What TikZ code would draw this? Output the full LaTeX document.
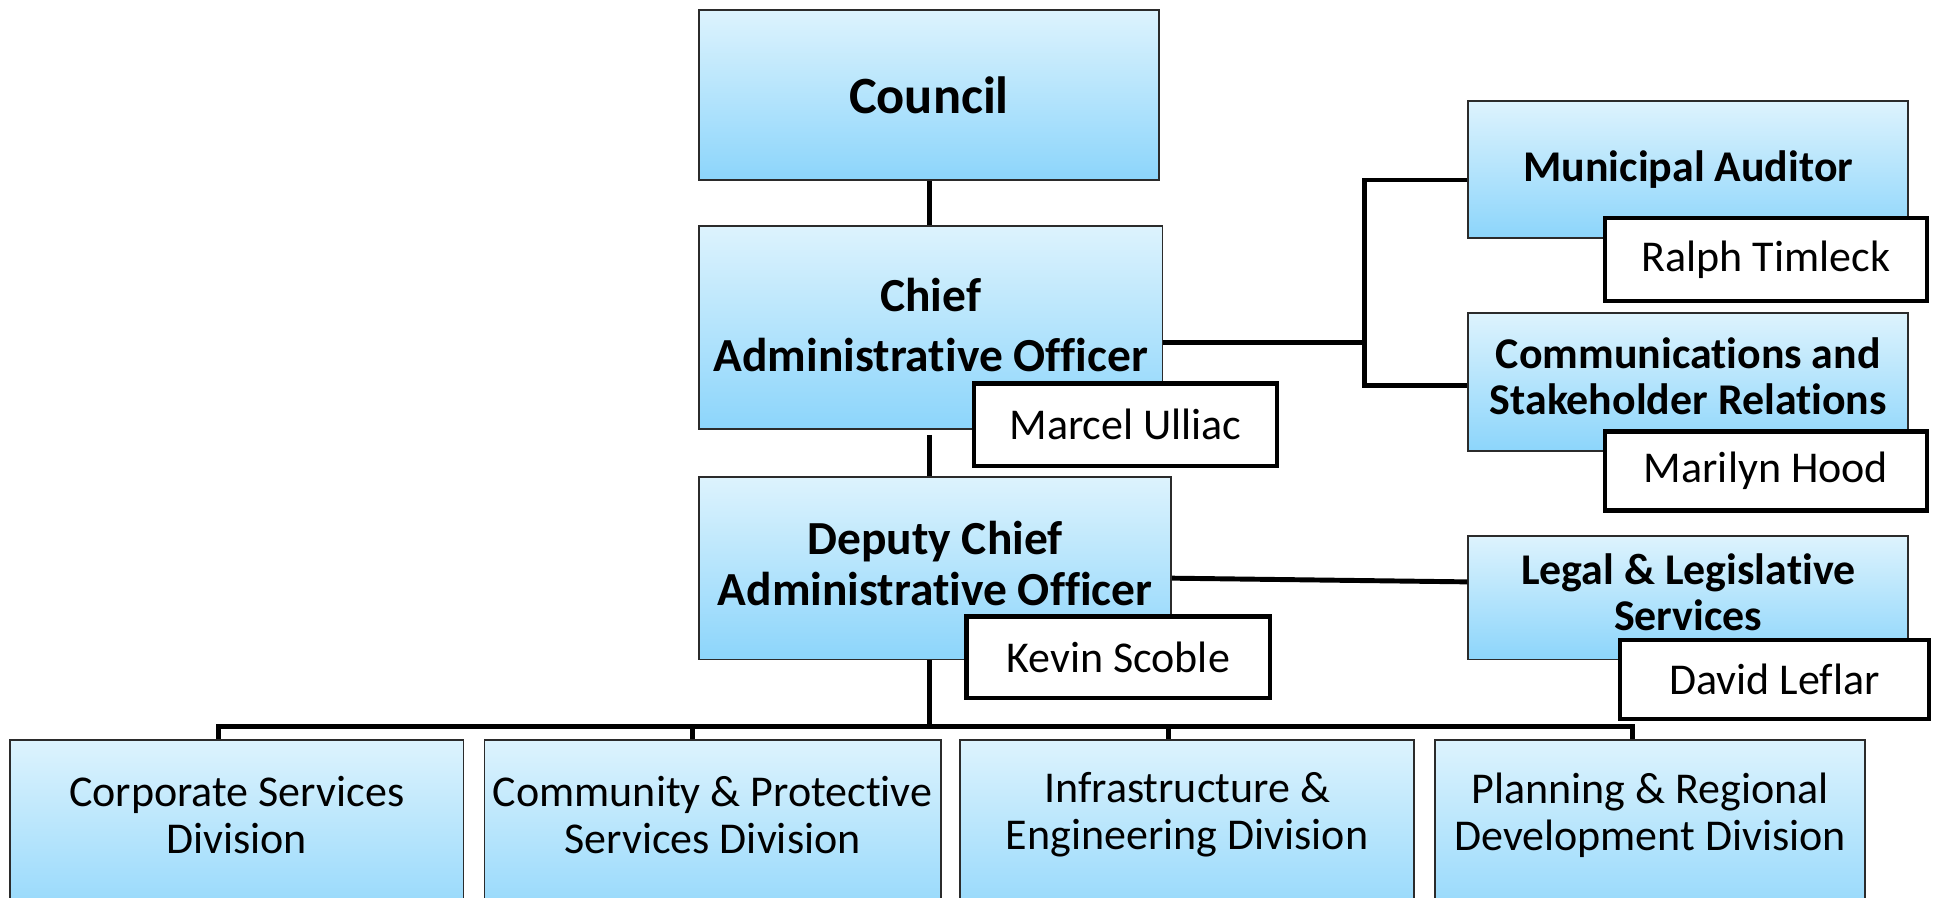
\documentclass[tikz,border=0pt]{standalone}
\usepackage{fontspec}
\setmainfont{Carlito}[Ligatures=NoCommon]
\definecolor{boxtop}{HTML}{DDF3FD}
\definecolor{boxbottom}{HTML}{8CD5FB}
\definecolor{boxline}{HTML}{2B2B2B}
\newcommand\councilfont{\bfseries\fontsize{42.5}{50}\selectfont}
\newcommand\chieffont{\bfseries\fontsize{38.5}{41}\selectfont}
\newcommand\unitfont{\bfseries\fontsize{35.6}{37.5}\selectfont}
\newcommand\namefont{\fontsize{35.7}{38}\selectfont}
\tikzset{
  unitbox/.style={draw=boxline, line width=1.5pt, top color=boxtop, bottom color=boxbottom,
    inner sep=0pt, align=center, font=\unitfont},
  divbox/.style={unitbox, minimum height=160pt},
  divtext/.style={align=center, font=\namefont, inner sep=0pt},
  namebox/.style={draw=black, line width=3.5pt, fill=white, inner sep=0pt, font=\namefont},
  link/.style={line width=4pt},
}
\begin{document}
\begin{tikzpicture}[x=1pt,y=-1pt]
  \useasboundingbox (0,0) rectangle (1568,728);
  \clip (0,0) rectangle (1568,728);
  % top of the chart
  \node[unitbox, font=\councilfont, minimum width=373pt, minimum height=138pt] (council) at (753.5,77) {Council};
  \node[unitbox, font=\chieffont, minimum width=376pt, minimum height=165pt, text depth=4pt] (cao) at (755,265.5) {Chief\\[7pt]Administrative Officer};
  \node[unitbox, font=\chieffont, minimum width=383pt, minimum height=148pt, text depth=8pt] (dcao) at (758.5,461) {Deputy Chief\\Administrative Officer};
  % right side
  \node[unitbox, minimum width=357pt, minimum height=111pt] (auditor) at (1369.5,137.5) {Municipal Auditor};
  \node[unitbox, minimum width=357pt, minimum height=112pt, text depth=10pt] (comms) at (1369.5,310) {Communications and\\Stakeholder Relations};
  \node[unitbox, minimum width=357pt, minimum height=100pt, text depth=10pt] (legal) at (1369.5,485) {Legal \& Legislative\\Services};
  % divisions
  \node[divbox, minimum width=368pt] (corp) at (192,680) {};
  \node[divbox, minimum width=370pt] (comm) at (578,680) {};
  \node[divbox, minimum width=368pt] (infra) at (963,680) {};
  \node[divbox, minimum width=349pt] (plan) at (1338.5,680) {};
  \node[divtext] (corplabel) at (192,661) {Corporate Services\\Division};
  \node[divtext] (commlabel) at (578,661) {Community \& Protective\\Services Division};
  \node[divtext] (infralabel) at (963,661) {Infrastructure \&\\Engineering Division};
  \node[divtext] (planlabel) at (1338.5,661) {Planning \& Regional\\Development Division};
  % names
  \node[namebox, minimum width=246pt, minimum height=67pt] (marcel) at (913,344.5) {Marcel Ulliac};
  \node[namebox, minimum width=246pt, minimum height=66pt] (kevin) at (907,533) {Kevin Scoble};
  \node[namebox, minimum width=261pt, minimum height=67pt] (ralph) at (1432.5,210.5) {Ralph Timleck};
  \node[namebox, minimum width=261pt, minimum height=64pt] (marilyn) at (1432.5,382) {Marilyn Hood};
  \node[namebox, minimum width=251pt, minimum height=64pt] (david) at (1439.5,551) {David Leflar};
  % lines
  \coordinate (trunk) at (754,589);
  \coordinate (split) at (1107,278);
  \draw[link] (council.south -| trunk) -- (cao.north -| trunk);
  \draw[link] ([yshift=-4pt]cao.south -| trunk) -- (dcao.north -| trunk);
  \draw[link] (dcao.south -| trunk) -- (trunk);
  \draw[link] (cao.east |- split) -- (split);
  \draw[link] ([yshift=-8.5pt]auditor.west) -| (split) |- ([yshift=-3pt]comms.west);
  \draw[link] ([yshift=-8pt]dcao.east) -- ([yshift=13pt]legal.west);
  \draw[link] ([xshift=-15pt]corp.north) |- (trunk) -| ([xshift=-14.5pt]plan.north);
  \draw[link] ([xshift=-16pt]comm.north) -- ([xshift=-16pt]comm.north |- trunk);
  \draw[link] ([xshift=-15pt]infra.north) -- ([xshift=-15pt]infra.north |- trunk);
\end{tikzpicture}
\end{document}
